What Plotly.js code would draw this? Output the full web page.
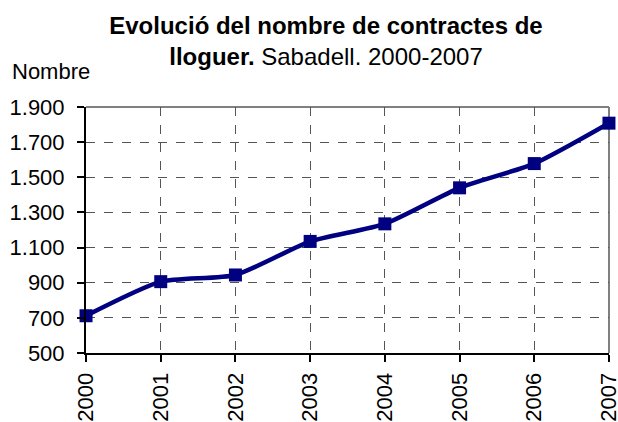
<!DOCTYPE html>
<html>
<head>
<meta charset="utf-8">
<script src="https://cdn.plot.ly/plotly-3.0.1.min.js"></script>
<style>html,body{margin:0;padding:0;background:#fff;}#chart{width:618px;height:422px;}</style>
</head>
<body>
<div id="chart"></div>
<script>
var years = [2000, 2001, 2002, 2003, 2004, 2005, 2006, 2007];
var contractes = [712, 906, 944, 1135, 1235, 1440, 1578, 1808];
var yTicks = [500, 700, 900, 1100, 1300, 1500, 1700, 1900];

var W = 618, H = 422;
var L = 86, R = 9, T = 107, B = 69;

var trace = {
  x: years,
  y: contractes,
  type: 'scatter',
  mode: 'lines+markers',
  line: {color: '#000080', width: 4.5, shape: 'spline', smoothing: 0.6},
  marker: {symbol: 'square', size: 13, color: '#000080'},
  cliponaxis: false,
  hoverinfo: 'x+y'
};

var layout = {
  width: W, height: H,
  margin: {l: L, r: R, t: T, b: B, pad: 0},
  paper_bgcolor: '#ffffff',
  plot_bgcolor: '#ffffff',
  separators: ',.',
  showlegend: false,
  font: {family: '"Liberation Sans", Arial, sans-serif', color: '#000', size: 22},
  title: {
    text: '<b>Evolució del nombre de contractes de</b><br><b>lloguer.</b> Sabadell. 2000-2007',
    font: {family: '"Liberation Sans", Arial, sans-serif', size: 24, color: '#000'},
    xref: 'container', x: 326 / W, xanchor: 'center',
    yref: 'container', y: 1 - 34 / H, yanchor: 'top'
  },
  xaxis: {
    type: 'linear',
    range: [years[0] - 0.0005, years[years.length - 1] + 0.0005],
    tickvals: years,
    ticktext: years.map(String),
    tickangle: -90,
    ticks: 'outside', ticklen: 7, tickwidth: 2, tickcolor: '#000',
    showline: true, linecolor: '#000', linewidth: 2,
    showgrid: true, gridcolor: '#555', gridwidth: 1.2, griddash: 'dash',
    zeroline: false,
    tickfont: {size: 22},
    ticklabelstandoff: 2,
    ticklabeloverflow: 'allow',
    fixedrange: true
  },
  yaxis: {
    range: [yTicks[0], yTicks[yTicks.length - 1]],
    tickvals: yTicks,
    tickformat: ',d',
    ticks: 'outside', ticklen: 7, tickwidth: 2, tickcolor: '#000',
    showline: true, linecolor: '#000', linewidth: 2,
    showgrid: true, gridcolor: '#555', gridwidth: 1.2, griddash: 'dash',
    zeroline: false,
    tickfont: {size: 22},
    ticklabelstandoff: 8,
    fixedrange: true
  },
  shapes: [
    {type: 'line', xref: 'paper', yref: 'paper', x0: 0, x1: 1, y0: 1, y1: 1,
     line: {color: '#808080', width: 2}, layer: 'below'},
    {type: 'line', xref: 'paper', yref: 'paper', x0: 1, x1: 1, y0: 0, y1: 1,
     line: {color: '#808080', width: 2}, layer: 'below'}
  ],
  annotations: [
    {text: 'Nombre', xref: 'paper', yref: 'paper',
     x: (10 - L) / (W - L - R), xanchor: 'left',
     y: (H - B - 72) / (H - T - B), yanchor: 'middle',
     showarrow: false, font: {size: 22, color: '#000'}}
  ]
};

Plotly.newPlot('chart', [trace], layout, {displayModeBar: false, staticPlot: true});
</script>
</body>
</html>
